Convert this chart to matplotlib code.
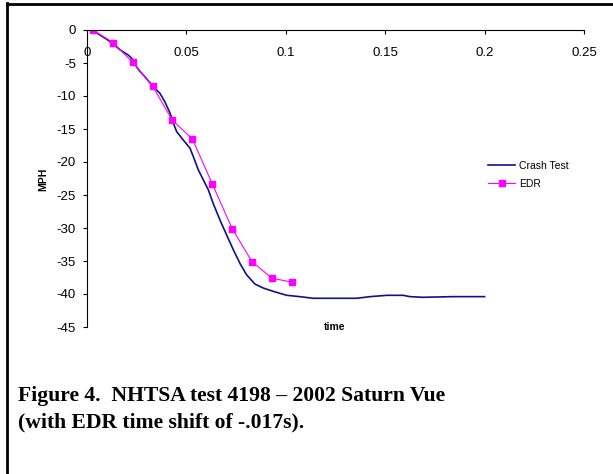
import numpy as np
import matplotlib.pyplot as plt
from matplotlib.lines import Line2D

plt.rcParams['font.family'] = ['Liberation Sans', 'DejaVu Sans']

# Crash test (NHTSA 4198) velocity change
crash_t = [0.0, 0.0032, 0.0065, 0.0099, 0.0132, 0.0166, 0.0208, 0.0225, 0.025, 0.0267,
           0.0283, 0.0334, 0.0367, 0.0392, 0.0418, 0.0434, 0.0451, 0.0485, 0.0518, 0.0535,
           0.056, 0.0585, 0.061, 0.0635, 0.0669, 0.0703, 0.0736, 0.077, 0.0803, 0.0845,
           0.0887, 0.0937, 0.1005, 0.107, 0.1138, 0.1357, 0.1424, 0.1508, 0.159, 0.1625,
           0.169, 0.184, 0.2]
crash_v = [0.0, -0.1, -0.76, -1.4, -2.1, -3.0, -3.8, -4.3, -5.6, -6.3,
           -6.8, -8.6, -9.6, -10.9, -12.6, -14.1, -15.4, -16.7, -17.9, -19.2,
           -21.2, -22.7, -24.2, -26.3, -28.8, -31.1, -33.3, -35.4, -37.1, -38.5,
           -39.1, -39.6, -40.2, -40.4, -40.65, -40.65, -40.4, -40.2, -40.2, -40.4,
           -40.5, -40.4, -40.4]

# EDR samples (shifted by -0.017 s)
edr_t = [0.003, 0.013, 0.023, 0.033, 0.043, 0.053, 0.063, 0.073, 0.083, 0.093, 0.103]
edr_v = [0.0, -1.9, -4.9, -8.5, -13.7, -16.5, -23.3, -30.1, -35.1, -37.6, -38.2]

xticks = [0, 0.05, 0.1, 0.15, 0.2, 0.25]
xtick_labels = ['0', '0.05', '0.1', '0.15', '0.2', '0.25']
yticks = np.arange(0, -50, -5)

W, H = 613, 474
fig = plt.figure(figsize=(W / 100, H / 100), dpi=100)
ax = fig.add_axes([87 / W, 1 - 327 / H, 497 / W, 297 / H])

ax.plot(crash_t, crash_v, color='#10108a', lw=1.2, label='Crash Test')
ax.plot(edr_t, edr_v, color='#ff00ff', lw=0.8, marker='s', markersize=4.3,
        label='EDR')

ax.set_xlim(0, 0.25)
ax.set_ylim(-45, 0)
ax.spines['top'].set_visible(False)
ax.spines['right'].set_visible(False)
ax.spines['bottom'].set_position(('data', 0))
for s in ['bottom', 'left']:
    ax.spines[s].set_linewidth(0.8)

ax.set_xticks(xticks)
ax.set_xticklabels(xtick_labels)
ax.set_yticks(yticks)
ax.set_yticklabels([str(v) for v in yticks])
ax.tick_params(axis='x', direction='out', length=3, width=0.8, pad=9.5, labelsize=9.5)
ax.tick_params(axis='y', direction='out', length=3, width=0.8, pad=5, labelsize=9.5)

fig.text(43 / W, 1 - 179 / H, 'MPH', rotation=90, fontsize=7.5, fontweight='bold',
         ha='center', va='center')
fig.text(335 / W, 1 - 327 / H, 'time', fontsize=7.5, fontweight='bold',
         ha='center', va='center')

ax.legend(loc='upper left', bbox_to_anchor=(488 / W, 1 - 161 / H),
          bbox_transform=fig.transFigure, frameon=False, fontsize=7.5,
          borderpad=0, borderaxespad=0, handlelength=2.6, handletextpad=0.4,
          labelspacing=0.75)

# caption
cap = dict(family='Liberation Serif', fontweight='bold', fontsize=15.6,
           ha='left', va='baseline')
fig.text(18 / W, 1 - 401 / H, 'Figure 4.  NHTSA test 4198 \u2013 2002 Saturn Vue', **cap)
fig.text(18 / W, 1 - 427 / H, '(with EDR time shift of -.017s).', **cap)

# page frame lines
fig.add_artist(Line2D([7 / W, 7 / W], [0, 1 - 3 / H], color='black', lw=2,
                      transform=fig.transFigure))
fig.add_artist(Line2D([7 / W, 1], [1 - 4 / H, 1 - 4 / H], color='black', lw=2,
                      transform=fig.transFigure))

fig.savefig('out.png', dpi=100)
